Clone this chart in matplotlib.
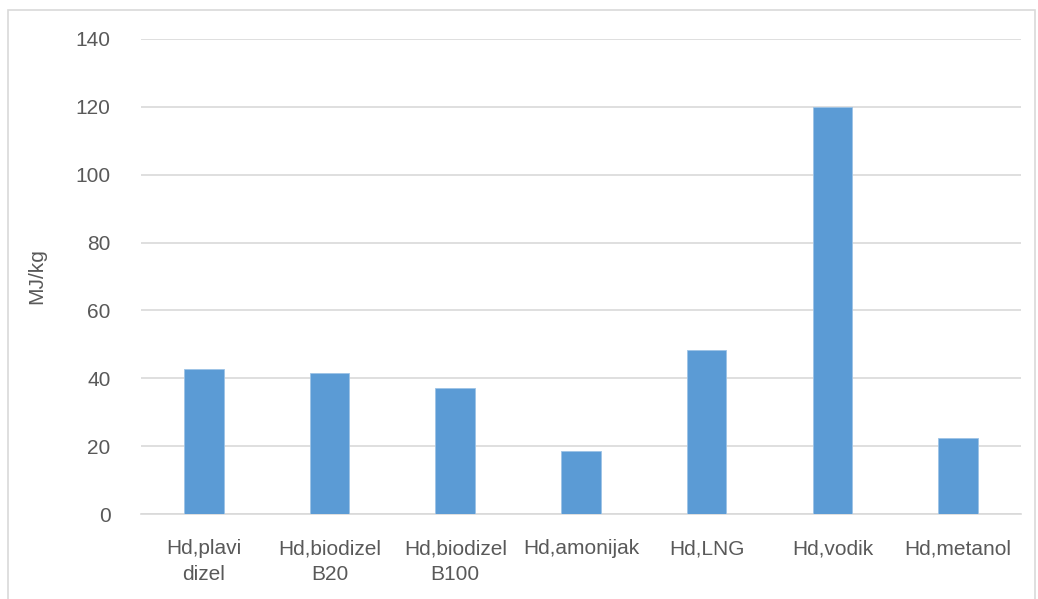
import matplotlib.pyplot as plt
from matplotlib.patches import Rectangle

labels = ["Hd,plavi\ndizel", "Hd,biodizel\nB20", "Hd,biodizel\nB100", "Hd,amonijak",
          "Hd,LNG", "Hd,vodik", "Hd,metanol"]
values = [42.6, 41.5, 37.0, 18.5, 48.3, 120.0, 22.5]
yticks = [0, 20, 40, 60, 80, 100, 120, 140]

plt.rcParams['font.family'] = ['Liberation Sans Narrow', 'Liberation Sans', 'DejaVu Sans']
grey = '#595959'

fig = plt.figure(figsize=(10.38, 5.99), dpi=100)
ax = fig.add_axes([0.1358, 0.1419, 0.8478, 0.793])

x = range(len(labels))
ax.bar(x, values, width=0.315, color='#5B9BD5', edgecolor='#9DC3E6', linewidth=0.6, zorder=3)

ax.set_xlim(-0.5, len(labels) - 0.5)
ax.set_ylim(0, 140)
ax.set_yticks(yticks)
ax.set_xticks(list(x))
ax.set_xticklabels(labels, fontsize=15, color=grey, linespacing=1.45)
ax.tick_params(axis='y', labelsize=15, colors=grey, length=0, pad=22)
ax.tick_params(axis='x', length=0, pad=18)
ax.grid(axis='y', color='#d9d9d9', linewidth=1.2, zorder=0)
for s in ['top', 'right', 'left']:
    ax.spines[s].set_visible(False)
ax.spines['bottom'].set_color('#d9d9d9')
ax.spines['bottom'].set_linewidth(1.2)
ax.set_ylabel("MJ/kg", fontsize=15, color=grey, labelpad=21)

# outer chart border
fig.patches.append(Rectangle((8 / 1038, -0.1), (1035 - 8) / 1038, 1.1 - 10 / 599,
                             transform=fig.transFigure, fill=False,
                             edgecolor='#d9d9d9', linewidth=1.2))

plt.savefig("out.png", dpi=100)
